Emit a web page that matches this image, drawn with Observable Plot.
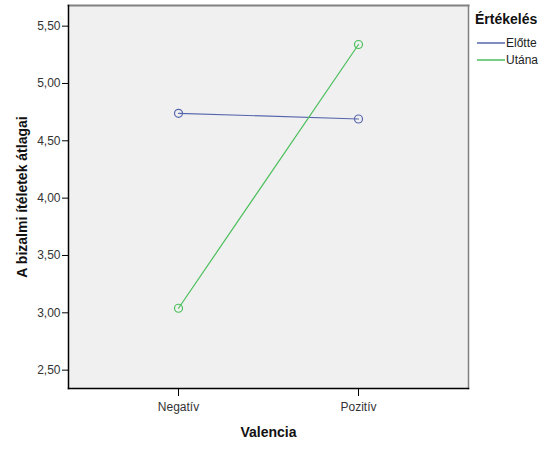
<!DOCTYPE html>
<html>
<head>
<meta charset="utf-8">
<script src="https://cdn.jsdelivr.net/npm/d3@7"></script>
<script src="https://cdn.jsdelivr.net/npm/@observablehq/plot@0.6"></script>
<style>
  html, body { margin: 0; padding: 0; background: #fff; }
  #wrap { position: relative; width: 547px; height: 453px; font-family: "Liberation Sans", Arial, sans-serif; }
  #legend { position: absolute; left: 475px; top: 11px; font-size: 12px; color: #222; }
  #legend .title { font-weight: bold; font-size: 14px; margin-bottom: 7px; color: #111; }
  #legend .item { display: flex; align-items: center; height: 17px; }
  #legend svg { margin-right: 1px; }
</style>
</head>
<body>
<div id="wrap"><div id="legend"></div></div>
<script>
const categories = ["Negatív", "Pozitív"];
const seriesNames = ["Előtte", "Utána"];
const elotte = [4.74, 4.69];
const utana = [3.04, 5.34];
const yTicks = [2.5, 3.0, 3.5, 4.0, 4.5, 5.0, 5.5];
const colors = ["#5767ad", "#4cbf5c"];

const data = [];
categories.forEach((c, i) => {
  data.push({valencia: c, serie: seriesNames[0], value: elotte[i]});
  data.push({valencia: c, serie: seriesNames[1], value: utana[i]});
});

const fmt = v => v.toFixed(2).replace(".", ",");

const chart = Plot.plot({
  width: 547,
  height: 453,
  marginLeft: 68,
  marginRight: 79,
  marginTop: 5,
  marginBottom: 65,
  style: {fontFamily: "'Liberation Sans', Arial, sans-serif", fontSize: "12px", background: "#fff", color: "#222"},
  x: {type: "point", domain: categories, padding: 0.61, label: null},
  y: {domain: [2.34, 5.68], label: null},
  color: {domain: seriesNames, range: colors},
  marks: [
    Plot.frame({fill: "#f0f0f0", stroke: "none"}),
    Plot.frame({anchor: "top", stroke: "#808080", strokeWidth: 2}),
    Plot.frame({anchor: "right", stroke: "#808080", strokeWidth: 1.5}),
    Plot.frame({anchor: "left", stroke: "#000", strokeWidth: 1.5}),
    Plot.frame({anchor: "bottom", stroke: "#000", strokeWidth: 1.5}),
    Plot.axisY({ticks: yTicks, tickFormat: fmt, tickSize: 6, tickPadding: 2, fontSize: 12, fill: "#333", stroke: "#000", label: null}),
    Plot.axisX({tickSize: 8, tickPadding: 6, fontSize: 12, fill: "#333", stroke: "#000", label: null}),
    Plot.text(["Valencia"], {frameAnchor: "bottom", dy: 48, fontWeight: "bold", fontSize: 14, fill: "#111"}),
    Plot.text(["A bizalmi ítéletek átlagai"], {frameAnchor: "left", textAnchor: "middle", dx: -46, rotate: -90, fontWeight: "bold", fontSize: 14, fill: "#111"}),
    Plot.line(data, {x: "valencia", y: "value", stroke: "serie", strokeWidth: 1.2}),
    Plot.dot(data, {x: "valencia", y: "value", stroke: "serie", r: 4, fill: "none", strokeWidth: 1.2})
  ]
});
document.getElementById("wrap").prepend(chart);

const legend = document.getElementById("legend");
legend.innerHTML = `<div class="title">Értékelés</div>` + seriesNames.map((s, i) =>
  `<div class="item"><svg width="30" height="10"><line x1="2" x2="30" y1="5" y2="5" stroke="${colors[i]}" stroke-width="1.5"/></svg>${s}</div>`
).join("");
</script>
</body>
</html>
